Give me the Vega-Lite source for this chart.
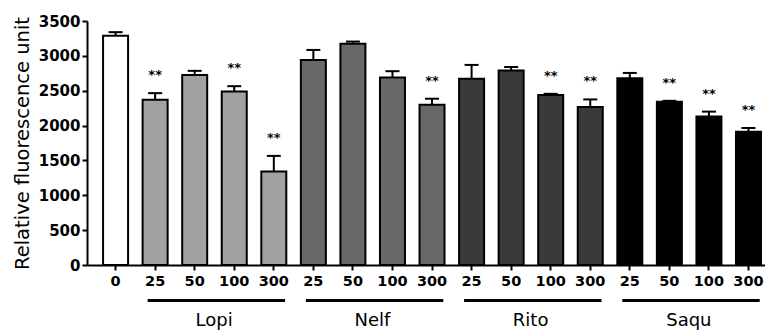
{
  "$schema": "https://vega.github.io/schema/vega-lite/v6.json",
  "width": 678,
  "height": 244,
  "autosize": {"type": "none"},
  "padding": {"left": 87, "top": 21, "right": 0, "bottom": 68},
  "background": "white",
  "config": {"view": {"stroke": null}, "font": "DejaVu Sans"},
  "resolve": {"axis": {"x": "independent", "y": "independent"}},
  "datasets": {
    "bars": [
      {"id": "0", "group": "Control", "value": 3290, "upper": 3340, "sig": ""},
      {"id": "Lopi 25", "group": "Lopi", "value": 2370, "upper": 2465, "sig": "**"},
      {"id": "Lopi 50", "group": "Lopi", "value": 2725, "upper": 2785, "sig": ""},
      {"id": "Lopi 100", "group": "Lopi", "value": 2490, "upper": 2565, "sig": "**"},
      {"id": "Lopi 300", "group": "Lopi", "value": 1340, "upper": 1565, "sig": "**"},
      {"id": "Nelf 25", "group": "Nelf", "value": 2940, "upper": 3085, "sig": ""},
      {"id": "Nelf 50", "group": "Nelf", "value": 3175, "upper": 3205, "sig": ""},
      {"id": "Nelf 100", "group": "Nelf", "value": 2690, "upper": 2780, "sig": ""},
      {"id": "Nelf 300", "group": "Nelf", "value": 2300, "upper": 2385, "sig": "**"},
      {"id": "Rito 25", "group": "Rito", "value": 2670, "upper": 2870, "sig": ""},
      {"id": "Rito 50", "group": "Rito", "value": 2790, "upper": 2840, "sig": ""},
      {"id": "Rito 100", "group": "Rito", "value": 2440, "upper": 2455, "sig": "**"},
      {"id": "Rito 300", "group": "Rito", "value": 2265, "upper": 2375, "sig": "**"},
      {"id": "Saqu 25", "group": "Saqu", "value": 2680, "upper": 2755, "sig": ""},
      {"id": "Saqu 50", "group": "Saqu", "value": 2340, "upper": 2355, "sig": "**"},
      {"id": "Saqu 100", "group": "Saqu", "value": 2130, "upper": 2200, "sig": "**"},
      {"id": "Saqu 300", "group": "Saqu", "value": 1910, "upper": 1965, "sig": "**"}
    ],
    "groups": [
      {"group": "Lopi", "start": "Lopi 25", "end": "Lopi 300", "mid": "Lopi 50"},
      {"group": "Nelf", "start": "Nelf 25", "end": "Nelf 300", "mid": "Nelf 50"},
      {"group": "Rito", "start": "Rito 25", "end": "Rito 300", "mid": "Rito 50"},
      {"group": "Saqu", "start": "Saqu 25", "end": "Saqu 300", "mid": "Saqu 50"}
    ]
  },
  "layer": [
    {
      "data": {"name": "bars"},
      "mark": {"type": "bar", "stroke": "black", "strokeWidth": 2},
      "encoding": {
        "x": {
          "field": "id", "type": "nominal", "title": null,
          "scale": {
            "domain": ["0", "Lopi 25", "Lopi 50", "Lopi 100", "Lopi 300", "Nelf 25", "Nelf 50", "Nelf 100", "Nelf 300", "Rito 25", "Rito 50", "Rito 100", "Rito 300", "Saqu 25", "Saqu 50", "Saqu 100", "Saqu 300"],
            "paddingInner": 0.368, "paddingOuter": 0.254, "align": 0.8
          },
          "axis": {
            "labelExpr": "slice(datum.label, indexof(datum.label, ' ') + 1)",
            "labelAngle": 0, "labelFont": "DejaVu Sans", "labelFontWeight": "bold", "labelFontSize": 14.5, "labelColor": "black",
            "labelPadding": 4, "tickSize": 5, "tickWidth": 2, "tickColor": "black",
            "domainColor": "black", "domainWidth": 2
          }
        },
        "y": {
          "field": "value", "type": "quantitative", "title": "Relative fluorescence unit",
          "scale": {"domain": [0, 3500], "nice": false},
          "axis": {
            "values": [0, 500, 1000, 1500, 2000, 2500, 3000, 3500], "format": "d", "grid": false,
            "labelFont": "DejaVu Sans", "labelFontWeight": "bold", "labelFontSize": 15, "labelColor": "black",
            "labelPadding": 2, "tickSize": 5, "tickWidth": 2, "tickColor": "black",
            "domainColor": "black", "domainWidth": 2,
            "titleFont": "DejaVu Sans", "titleFontSize": 19.5, "titleFontWeight": "normal", "titleColor": "black", "titlePadding": 6
          }
        },
        "color": {
          "field": "group", "type": "nominal", "legend": null,
          "scale": {"domain": ["Control", "Lopi", "Nelf", "Rito", "Saqu"], "range": ["#ffffff", "#a2a2a2", "#686868", "#3a3a3a", "#000000"]}
        }
      }
    },
    {
      "data": {"name": "bars"},
      "mark": {"type": "rule", "stroke": "black", "strokeWidth": 2},
      "encoding": {
        "x": {"field": "id", "type": "nominal", "axis": null},
        "y": {"field": "value", "type": "quantitative", "axis": null},
        "y2": {"field": "upper"}
      }
    },
    {
      "data": {"name": "bars"},
      "mark": {"type": "tick", "color": "black", "size": 14, "thickness": 2, "opacity": 1},
      "encoding": {
        "x": {"field": "id", "type": "nominal", "axis": null},
        "y": {"field": "upper", "type": "quantitative", "axis": null}
      }
    },
    {
      "data": {"name": "bars"},
      "transform": [{"filter": "datum.sig != ''"}],
      "mark": {"type": "text", "font": "DejaVu Sans", "fontSize": 13, "fontWeight": "bold", "fill": "black", "baseline": "middle", "dy": -18},
      "encoding": {
        "x": {"field": "id", "type": "nominal", "axis": null},
        "y": {"field": "upper", "type": "quantitative", "axis": null},
        "text": {"field": "sig"}
      }
    },
    {
      "data": {"name": "groups"},
      "mark": {"type": "rule", "stroke": "black", "strokeWidth": 3},
      "encoding": {
        "x": {"field": "start", "type": "nominal", "bandPosition": 0.2, "axis": null},
        "x2": {"field": "end", "bandPosition": 0.95},
        "y": {"datum": -510, "type": "quantitative", "axis": null}
      }
    },
    {
      "data": {"name": "groups"},
      "mark": {"type": "text", "font": "DejaVu Sans", "fontSize": 18, "fill": "black", "baseline": "alphabetic", "align": "center", "dx": 7},
      "encoding": {
        "x": {"field": "mid", "type": "nominal", "bandPosition": 1, "axis": null},
        "y": {"datum": -875, "type": "quantitative", "axis": null},
        "text": {"field": "group"}
      }
    }
  ]
}
